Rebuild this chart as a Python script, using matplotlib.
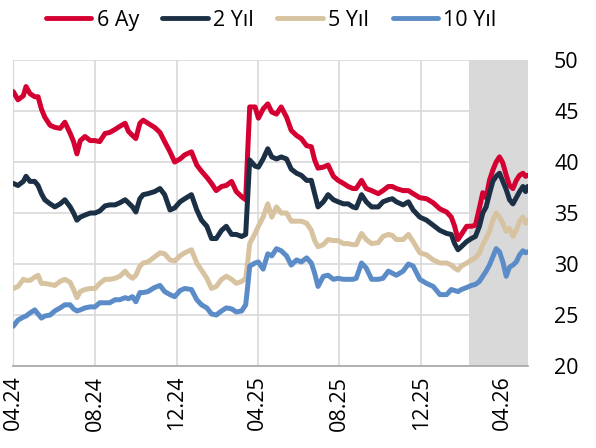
import numpy as np
import pandas as pd
import matplotlib
matplotlib.use("Agg")
import matplotlib.pyplot as plt
import matplotlib.dates as mdates

plt.rcParams['font.family'] = ['Open Sans', 'DejaVu Sans']

# days since 2024-04-01
days = [0, 7, 15, 19, 25, 32, 37, 42, 47, 55,
        62, 70, 77, 85, 90, 95, 100, 107, 115, 122,
        129, 137, 144, 152, 159, 167, 172, 178, 183, 189,
        194, 201, 211, 219, 226, 234, 241, 249, 256, 266,
        274, 281, 289, 296, 303, 311, 318, 326, 333, 341,
        347, 350, 353, 361, 366, 373, 380, 386, 393, 400,
        408, 415, 423, 430, 438, 445, 450, 455, 463, 470,
        478, 485, 493, 500, 507, 512, 520, 527, 535, 545,
        552, 560, 566, 572, 582, 590, 597, 607, 617, 627,
        637, 647, 654, 659, 664, 669, 677, 684, 690, 696,
        701, 706, 711, 716, 721, 726, 731, 736, 741, 746,
        751, 756, 761, 765, 768]

ay6 = [46.9, 46.1, 46.5, 47.4, 46.7, 46.4, 46.4, 45.2, 44.4, 43.6,
       43.4, 43.3, 43.9, 42.8, 42.0, 40.8, 42.1, 42.5, 42.1, 42.1,
       42.0, 42.8, 42.9, 43.2, 43.5, 43.8, 43.0, 42.6, 42.3, 43.8,
       44.1, 43.8, 43.4, 42.9, 42.0, 41.0, 40.0, 40.3, 40.7, 41.0,
       39.7, 39.1, 38.5, 37.9, 37.2, 37.6, 37.7, 38.1, 37.1, 36.6,
       36.3, 41.0, 45.4, 45.4, 44.3, 45.2, 45.7, 44.9, 44.7, 45.4,
       44.4, 43.1, 42.6, 42.3, 41.6, 41.5, 40.2, 39.4, 39.5, 39.7,
       38.6, 38.2, 37.9, 37.6, 37.4, 37.4, 38.2, 37.4, 37.2, 36.9,
       37.2, 37.6, 37.6, 37.4, 37.2, 37.2, 36.9, 36.5, 36.4, 36.0,
       35.4, 35.1, 34.6, 33.7, 32.4, 32.9, 33.7, 33.7, 33.8, 35.5,
       37.0, 36.5, 38.2, 39.2, 40.0, 40.5, 39.9, 38.7, 37.7, 37.4,
       38.2, 38.7, 38.9, 38.6, 38.7]

yil2 = [37.9, 37.7, 38.1, 38.6, 38.1, 38.1, 37.7, 36.9, 36.3, 35.9,
        35.6, 35.9, 36.3, 35.6, 35.0, 34.3, 34.6, 34.8, 35.0, 35.0,
        35.2, 35.7, 35.8, 35.8, 36.0, 36.3, 36.0, 35.6, 35.1, 36.4,
        36.8, 36.9, 37.1, 37.4, 36.8, 35.3, 35.5, 36.1, 36.4, 36.8,
        35.3, 34.3, 33.7, 32.5, 32.5, 33.3, 33.7, 32.9, 32.9, 32.7,
        32.9, 36.6, 40.2, 39.6, 39.5, 40.3, 41.3, 40.5, 40.3, 40.5,
        40.3, 39.3, 38.9, 38.7, 38.2, 38.2, 36.9, 35.6, 36.1, 36.8,
        36.3, 36.1, 35.9, 35.9, 35.6, 35.5, 36.8, 36.1, 35.6, 35.6,
        36.1, 36.3, 36.4, 36.1, 35.8, 36.1, 35.3, 34.6, 34.3, 33.8,
        33.3, 33.0, 32.9, 32.0, 31.4, 31.7, 32.2, 32.5, 32.7, 33.7,
        35.0, 35.6, 36.9, 38.1, 38.6, 38.9, 38.1, 37.3, 36.3, 35.9,
        36.5, 37.1, 37.6, 37.1, 37.6]

yil5 = [27.6, 27.8, 28.5, 28.4, 28.4, 28.7, 28.9, 28.1, 28.1, 28.0,
        27.9, 28.3, 28.5, 28.2, 27.5, 26.7, 27.3, 27.5, 27.6, 27.6,
        28.1, 28.5, 28.5, 28.6, 28.8, 29.3, 28.9, 28.6, 28.9, 29.8,
        30.1, 30.2, 30.7, 31.1, 31.0, 30.4, 30.3, 30.8, 31.1, 31.4,
        30.1, 29.4, 28.6, 27.6, 27.8, 28.5, 28.8, 28.5, 28.1, 28.3,
        28.6, 30.2, 32.0, 33.0, 33.7, 34.6, 35.9, 34.6, 35.6, 35.0,
        35.0, 34.2, 34.2, 34.2, 34.0, 33.3, 32.3, 31.7, 31.9, 32.4,
        32.3, 32.3, 32.0, 32.0, 31.9, 31.9, 33.0, 32.4, 32.0, 32.1,
        32.7, 32.9, 32.8, 32.4, 32.4, 32.9, 32.2, 31.1, 30.9, 30.4,
        30.1, 30.1, 29.9, 29.6, 29.4, 29.8, 30.1, 30.4, 30.6, 31.1,
        31.9, 32.5, 33.2, 34.3, 35.0, 34.6, 34.0, 33.2, 33.5, 32.7,
        33.3, 34.2, 34.6, 34.0, 34.3]

yil10 = [23.9, 24.5, 24.8, 24.9, 25.2, 25.5, 25.1, 24.7, 24.9, 25.0,
         25.4, 25.7, 26.0, 26.0, 25.6, 25.4, 25.5, 25.7, 25.8, 25.8,
         26.2, 26.2, 26.2, 26.5, 26.5, 26.7, 26.6, 26.8, 26.3, 27.2,
         27.2, 27.3, 27.7, 27.9, 27.3, 27.0, 26.8, 27.4, 27.6, 27.5,
         26.5, 26.0, 25.7, 25.1, 25.0, 25.4, 25.7, 25.6, 25.3, 25.4,
         26.0, 27.8, 29.8, 30.1, 30.2, 29.5, 31.0, 30.8, 31.5, 31.3,
         30.8, 29.9, 30.4, 30.2, 30.6, 30.1, 29.1, 27.8, 28.8, 28.9,
         28.5, 28.6, 28.5, 28.5, 28.5, 28.6, 30.1, 29.6, 28.5, 28.5,
         28.6, 29.3, 29.1, 28.9, 29.3, 30.0, 29.8, 28.5, 28.1, 27.8,
         27.0, 27.0, 27.5, 27.4, 27.3, 27.5, 27.7, 27.9, 28.0, 28.3,
         28.8, 29.3, 29.9, 30.7, 31.5, 31.2, 30.2, 28.8, 29.7, 29.9,
         30.2, 30.9, 31.3, 31.1, 31.2]

labels = ['6 Ay', '2 Yıl', '5 Yıl', '10 Yıl']
colors = ['#d50032', '#1c3045', '#d8c3a0', '#5b8cc8']
shade_start = '2026-02-10'
end_date = '2026-05-09'

dates = pd.Timestamp('2024-04-01') + pd.to_timedelta(days, unit='D')

fig = plt.figure(figsize=(5.96, 4.48), dpi=100)
ax = fig.add_axes([0.0223, 0.183, 0.863, 0.683])

ax.axvspan(pd.Timestamp(shade_start), pd.Timestamp(end_date), color='#d9d9d9', lw=0, zorder=0)

for vals, lab, col in zip([ay6, yil2, yil5, yil10], labels, colors):
    ax.plot(dates, vals, color=col, lw=3.6, label=lab, solid_capstyle='round', zorder=3)

ax.set_xlim(pd.Timestamp('2024-04-01'), pd.Timestamp(end_date))
ax.set_ylim(20, 50)
ax.set_yticks(np.arange(20, 51, 5))
ax.xaxis.set_major_locator(mdates.MonthLocator(bymonth=[4, 8, 12]))
ax.xaxis.set_major_formatter(mdates.DateFormatter('%m.%y'))

ax.grid(True, color='#d9d9d9', lw=1.2, zorder=1)
ax.set_axisbelow(True)
ax.yaxis.tick_right()
ax.tick_params(axis='y', length=0, pad=19, labelsize=15.5)
ax.tick_params(axis='x', length=0, pad=7, labelsize=15.5, labelrotation=90)

for s in ['top', 'right']:
    ax.spines[s].set_visible(False)
ax.spines['left'].set_color('#d9d9d9')
ax.spines['bottom'].set_color('#a6a6a6')
ax.spines['bottom'].set_linewidth(1.2)

leg = fig.legend(loc='center', bbox_to_anchor=(0.455, 0.955), ncol=4, frameon=False,
                 fontsize=15.5, handlelength=2.1, handletextpad=0.25, columnspacing=1.1)
for h in leg.get_lines():
    h.set_linewidth(3.5)

fig.savefig('out.png', dpi=100)
